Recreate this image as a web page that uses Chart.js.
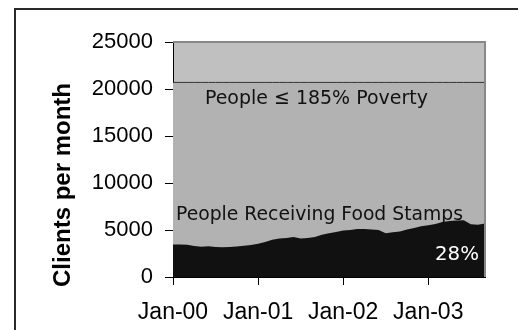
<!DOCTYPE html>
<html>
<head>
<meta charset="utf-8">
<script src="https://cdn.jsdelivr.net/npm/chart.js@4"></script>
<style>
  html, body { margin: 0; padding: 0; background: #fff; }
  #wrap { width: 518px; height: 330px; }
</style>
</head>
<body>
<div id="wrap"><canvas id="clients"></canvas></div>
<script>
// months Jan-00 .. Sep-03
const monthNames = ['Jan', 'Feb', 'Mar', 'Apr', 'May', 'Jun', 'Jul', 'Aug', 'Sep', 'Oct', 'Nov', 'Dec'];
const years = ['00', '01', '02', '03'];
const monthCount = 45;

// people receiving food stamps, per month
const foodStamps = [
  3450, 3450, 3420, 3300, 3220, 3280, 3180, 3170, 3200, 3250, 3320, 3400,
  3550, 3720, 3950, 4100, 4150, 4250, 4100, 4150, 4250, 4500, 4650, 4800,
  4950, 5000, 5100, 5100, 5050, 5000, 4650, 4750, 4850, 5050, 5200, 5400,
  5500, 5650, 5850, 5950, 6000, 6050, 5600, 5550, 5700
];
// people at or below 185% of poverty
const povertyLevel = 20700;

const yTicks = [0, 5000, 10000, 15000, 20000, 25000];

const labels = [];
for (let i = 0; i < monthCount; i++) {
  labels.push(monthNames[i % 12] + '-' + years[Math.floor(i / 12)]);
}
const poverty = labels.map(() => povertyLevel);

const sans = 'Liberation Sans, Arial, sans-serif';

// frame, plot background, axis title and the text labels inside the plot
const decor = {
  id: 'decor',
  beforeDraw(chart) {
    const { ctx, chartArea: a } = chart;
    ctx.save();
    ctx.fillStyle = '#fff';
    ctx.fillRect(0, 0, chart.width, chart.height);
    ctx.strokeStyle = '#2a2a2a';
    ctx.lineWidth = 2;
    ctx.beginPath();
    ctx.moveTo(15, chart.height + 2);
    ctx.lineTo(15, 9);
    ctx.lineTo(chart.width + 2, 9);
    ctx.stroke();
    ctx.fillStyle = '#c0c0c0';
    ctx.fillRect(a.left, a.top, a.right - a.left, a.bottom - a.top);

    // y axis title, sitting a little low like the original sheet
    ctx.translate(63, a.bottom + 10);
    ctx.rotate(-Math.PI / 2);
    ctx.font = 'bold 24px ' + sans;
    ctx.fillStyle = '#000';
    ctx.textAlign = 'left';
    ctx.textBaseline = 'middle';
    ctx.fillText('Clients per month', 0, 0);
    ctx.restore();
  },
  afterDatasetsDraw(chart) {
    const { ctx, chartArea: a, scales } = chart;
    const x = scales.x, y = scales.y;
    ctx.save();
    ctx.strokeStyle = '#888';
    ctx.lineWidth = 2;
    ctx.beginPath();
    ctx.moveTo(a.left, a.top);
    ctx.lineTo(a.right, a.top);
    ctx.lineTo(a.right, a.bottom);
    ctx.stroke();

    ctx.font = '20px "DejaVu Sans", Tahoma, sans-serif';
    ctx.textBaseline = 'alphabetic';
    ctx.textAlign = 'left';
    ctx.fillStyle = '#111';
    ctx.fillText('People \u2264 185% Poverty', x.getPixelForValue(4.5), y.getPixelForValue(18400), 223);
    ctx.fillText('People Receiving Food Stamps', a.left + 3, y.getPixelForValue(6100), 287);
    ctx.fillStyle = '#fff';
    ctx.textAlign = 'right';
    ctx.fillText('28%', a.right - 6, y.getPixelForValue(1860), 44);
    ctx.restore();
  }
};

new Chart(document.getElementById('clients'), {
  type: 'line',
  data: {
    labels,
    datasets: [
      {
        label: 'People Receiving Food Stamps',
        data: foodStamps,
        fill: 'origin',
        backgroundColor: '#111111',
        borderColor: '#111111',
        borderWidth: 0,
        pointRadius: 0,
        tension: 0
      },
      {
        label: 'People \u2264 185% Poverty',
        data: poverty,
        fill: 'origin',
        backgroundColor: '#b2b2b2',
        borderColor: '#333',
        borderWidth: 1,
        pointRadius: 0,
        tension: 0
      }
    ]
  },
  options: {
    responsive: true,
    maintainAspectRatio: false,
    animation: false,
    layout: { padding: { left: 0, top: 42, right: 33, bottom: 0 } },
    plugins: {
      legend: { display: false },
      tooltip: { enabled: false }
    },
    scales: {
      x: {
        type: 'category',
        offset: false,
        afterFit(scale) { scale.height = 53; },
        border: { display: true, color: '#000', width: 1 },
        grid: { drawOnChartArea: false, drawTicks: true, tickLength: 8, color: '#000' },
        ticks: {
          autoSkip: false,
          maxRotation: 0,
          padding: 14,
          color: '#000',
          font: { family: sans, size: 23 },
          callback(v, i) { return i % 12 === 0 ? labels[i] : null; }
        }
      },
      y: {
        min: 0,
        max: 25000,
        afterFit(scale) { scale.width = 173; },
        afterBuildTicks(scale) { scale.ticks = yTicks.map(v => ({ value: v })); },
        border: { display: true, color: '#000', width: 1 },
        grid: { drawOnChartArea: false, drawTicks: true, tickLength: 8, color: '#000' },
        ticks: {
          padding: 12,
          color: '#000',
          font: { family: sans, size: 22 },
          callback(v) { return String(v); }
        }
      }
    }
  },
  plugins: [decor]
});
</script>
</body>
</html>
